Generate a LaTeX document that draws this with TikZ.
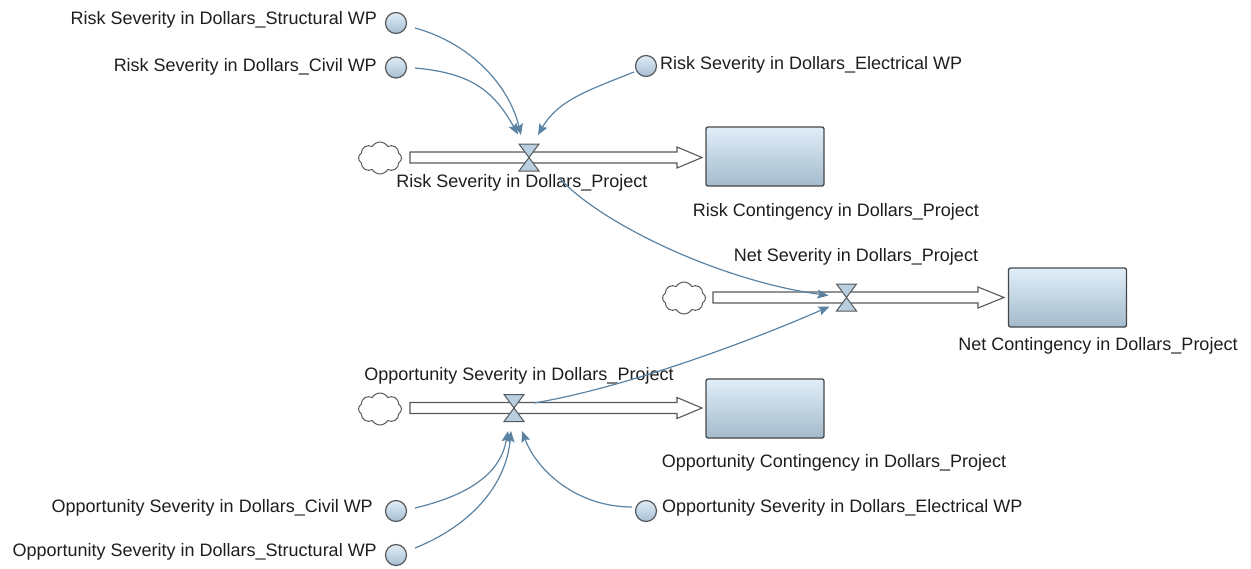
\documentclass[tikz,border=0pt]{standalone}
\usepackage{fontspec}
\setmainfont{Liberation Sans}
\usetikzlibrary{arrows.meta,shapes.symbols,calc}
\definecolor{linkc}{HTML}{5A83A3}
\definecolor{txt}{HTML}{1E1E1E}
\definecolor{edgec}{HTML}{55595C}
\definecolor{auxtop}{HTML}{E0ECF6}
\definecolor{auxbot}{HTML}{A6BED2}
\definecolor{stocktop}{HTML}{E0EEF9}
\definecolor{stockbot}{HTML}{A4BACB}
\definecolor{valvefill}{HTML}{B9CEDE}
\begin{document}
\begin{tikzpicture}[x=1pt,y=-1pt]
\tikzset{
  aux/.style={circle, draw=edgec, line width=1.2pt, top color=auxtop, bottom color=auxbot, minimum size=21pt, inner sep=0pt},
  stock/.style={rectangle, rounded corners=2pt, draw=edgec!80!black, line width=1.3pt, top color=stocktop, bottom color=stockbot, minimum width=118pt, minimum height=59pt},
  cloudy/.style={cloud, cloud puffs=8, cloud puff arc=120, cloud ignores aspect, draw=edgec, line width=1pt, minimum width=43pt, minimum height=32pt, fill=white, inner sep=0pt},
  lbl/.style={text=txt, font=\fontsize{18}{21}\selectfont, inner sep=0pt},
  link/.style={draw=linkc, line width=1.2pt, -{Stealth[length=11pt,width=9pt,inset=2pt]}},
  pipe/.style={draw=edgec, line width=1.1pt, fill=white},
  valve/.style={draw=edgec, line width=1pt, fill=valvefill}
}
\useasboundingbox (0,0) rectangle (1251,568);

% stocks
\node[stock] (s1) at (765,156.5) {};
\node[stock] (s2) at (1067.5,297.5) {};
\node[stock] (s3) at (765,408.5) {};

% clouds
\node[cloudy] (c1) at (380,158) {};
\node[cloudy] (c2) at (684,298) {};
\node[cloudy] (c3) at (380,409) {};

% pipes
\draw[pipe] (410,152) -- (677,152) -- (677,147) -- (702,157.5) -- (677,168) -- (677,163) -- (410,163) -- cycle;
\draw[pipe] (713,292) -- (978,292) -- (978,287) -- (1004,297.5) -- (978,308) -- (978,303) -- (713,303) -- cycle;
\draw[pipe] (410,402.5) -- (677,402.5) -- (677,397.5) -- (702,408) -- (677,418.5) -- (677,413.5) -- (410,413.5) -- cycle;

% valves
\coordinate (v1) at (529,157.5);
\coordinate (v2) at (846.5,297.5);
\coordinate (v3) at (514,408);
\foreach \v in {v1,v2,v3}{
  \draw[valve] ($(\v)+(-10,-13.5)$) -- ($(\v)+(10,-13.5)$) -- (\v) -- cycle;
  \draw[valve] ($(\v)+(-10,13.5)$) -- ($(\v)+(10,13.5)$) -- (\v) -- cycle;
}

% auxiliaries
\node[aux] (rsS) at (396,23) {};
\node[aux] (rsC) at (396,67.5) {};
\node[aux] (rsE) at (646,66) {};
\node[aux] (osC) at (396,511) {};
\node[aux] (osS) at (396,555) {};
\node[aux] (osE) at (646,511) {};

% labels
\node[lbl, anchor=east] (lrsS) at (377,20) {Risk Severity in Dollars\_Structural WP};
\node[lbl, anchor=east] (lrsC) at (377,67) {Risk Severity in Dollars\_Civil WP};
\node[lbl, anchor=west] (lrsE) at (660,65) {Risk Severity in Dollars\_Electrical WP};
\node[lbl] (lf1) at (522,183) {Risk Severity in Dollars\_Project};
\node[lbl] (ls1) at (836,212) {Risk Contingency in Dollars\_Project};
\node[lbl] (lf2) at (856,257) {Net Severity in Dollars\_Project};
\node[lbl] (ls2) at (1098,346) {Net Contingency in Dollars\_Project};
\node[lbl] (lf3) at (519,376) {Opportunity Severity in Dollars\_Project};
\node[lbl] (ls3) at (834,463) {Opportunity Contingency in Dollars\_Project};
\node[lbl, anchor=east] (losC) at (373,508) {Opportunity Severity in Dollars\_Civil WP};
\node[lbl, anchor=east] (losS) at (377,552) {Opportunity Severity in Dollars\_Structural WP};
\node[lbl, anchor=west] (losE) at (662,508) {Opportunity Severity in Dollars\_Electrical WP};

% connectors
\draw[link] ($(rsS)+(19,5)$) .. controls +(55,15) and +(-12,-50) .. ($(v1)+(-8,-22.5)$);
\draw[link] ($(rsC)+(19,0.5)$) .. controls +(55,5) and +(-25,-45) .. ($(v1)+(-11,-23)$);
\draw[link] ($(rsE)+(-12,6)$) .. controls +(-45,18) and +(20,-35) .. ($(v1)+(9,-22.5)$);
\draw[link] ($(v1)+(30,20)$) .. controls +(40,45) and +(-110,-15) .. ($(v2)+(-18,-2)$);
\draw[link] ($(v3)+(20,-5)$) .. controls +(90,-15) and +(-80,35) .. ($(v2)+(-17,9)$);
\draw[link] ($(osC)+(19,-3)$) .. controls +(50,-12) and +(-8,45) .. ($(v3)+(-6,23)$);
\draw[link] ($(osS)+(19,-7)$) .. controls +(55,-22) and +(-5,55) .. ($(v3)+(-3,23)$);
\draw[link] ($(osE)+(-14,-4)$) .. controls +(-55,0) and +(15,40) .. ($(v3)+(8,23)$);
\end{tikzpicture}
\end{document}
